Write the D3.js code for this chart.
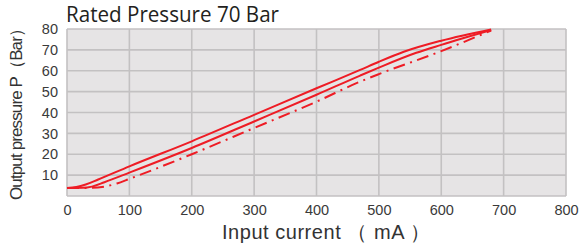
<!DOCTYPE html>
<html><head><meta charset="utf-8">
<script src="https://cdn.jsdelivr.net/npm/d3@7/dist/d3.min.js"></script>
<style>body{margin:0;background:#fff}svg{display:block}</style>
</head><body>
<svg id="c" width="582" height="247"></svg>
<script>
const title = "Rated Pressure 70 Bar";
const xLabel = "Input current （ mA ）";
const yLabel = "Output pressure P（Bar）";
const xTicks = [0,100,200,300,400,500,600,700,800];
const yTicks = [10,20,30,40,50,60,70,80];
const upperCurrent = [0,15,30,50,100,200,300,400,470,500,540,600,680];
const upperPressure = [3.8,4.3,5.5,7.9,14.2,26.2,38.9,51.6,60.4,64.3,69.1,74.4,79.8];
const middleCurrent = [0,25,40,60,100,200,300,400,470,500,560,600,680];
const middlePressure = [3.8,3.9,4.5,6.6,11.2,23.0,35.7,48.5,57.7,61.5,68.6,72.4,79.5];
const lowerCurrent = [0,40,60,80,100,200,300,400,470,500,600,680];
const lowerPressure = [3.8,3.9,4.5,6.0,8.2,20,32.6,45.2,54.8,58.4,69.4,79.3];

const svg = d3.select("#c");
const m = {l:67, r:566, t:29, b:196};
const x = d3.scaleLinear().domain([0,800]).range([m.l,m.r]);
const y = d3.scaleLinear().domain([0,80]).range([m.b,m.t]);

svg.append("rect").attr("x",m.l).attr("y",m.t).attr("width",m.r-m.l).attr("height",m.b-m.t).attr("fill","#e6e4e5");

svg.append("g").selectAll("line").data(xTicks).join("line")
  .attr("x1",d=>x(d)).attr("x2",d=>x(d)).attr("y1",m.t).attr("y2",m.b)
  .attr("stroke","#c3c1c2").attr("stroke-width",1.6);
svg.append("g").selectAll("line").data([0].concat(yTicks)).join("line")
  .attr("x1",m.l).attr("x2",m.r).attr("y1",d=>y(d)).attr("y2",d=>y(d))
  .attr("stroke","#c3c1c2").attr("stroke-width",1.6);

const xAxis = d3.axisBottom(x).tickValues(xTicks).tickSize(0).tickPadding(9);
const gx = svg.append("g").attr("transform",`translate(0,${m.b})`).call(xAxis);
gx.select(".domain").remove();
gx.selectAll("text").attr("font-family","Liberation Sans, Arial, sans-serif").attr("font-size",14.5).attr("fill","#3a3a3a");

const yAxis = d3.axisLeft(y).tickValues(yTicks).tickSize(0).tickPadding(9);
const gy = svg.append("g").attr("transform",`translate(${m.l},0)`).call(yAxis);
gy.select(".domain").remove();
gy.selectAll("text").attr("font-family","Liberation Sans, Arial, sans-serif").attr("font-size",14.5).attr("fill","#3a3a3a");

const line = d3.line().x(d=>x(d[0])).y(d=>y(d[1])).curve(d3.curveMonotoneX);
const series = [
  {c:upperCurrent, p:upperPressure, dash:null},
  {c:middleCurrent, p:middlePressure, dash:null},
  {c:lowerCurrent, p:lowerPressure, dash:"12,5.5,2,5.5"}
];
series.forEach(s=>{
  svg.append("path").datum(s.c.map((v,i)=>[v,s.p[i]]))
    .attr("d",line).attr("fill","none").attr("stroke","#ee1c25")
    .attr("stroke-width",2).attr("stroke-dasharray",s.dash);
});

svg.append("text").attr("x",66).attr("y",22).text(title)
  .attr("font-family","Open Sans, sans-serif").attr("font-size",21.5).attr("fill","#231f20")
  .attr("textLength",213).attr("lengthAdjust","spacingAndGlyphs");
svg.append("text").attr("x",326).attr("y",239).attr("text-anchor","middle").text(xLabel)
  .attr("font-family","Liberation Sans, Arial, sans-serif").attr("font-size",20).attr("fill","#333")
  .attr("textLength",208);
svg.append("text").attr("transform","translate(22,110) rotate(-90)").attr("text-anchor","middle").text(yLabel)
  .attr("font-family","Liberation Sans, Arial, sans-serif").attr("font-size",17).attr("fill","#333")
  .attr("textLength",180);
</script>
</body></html>
